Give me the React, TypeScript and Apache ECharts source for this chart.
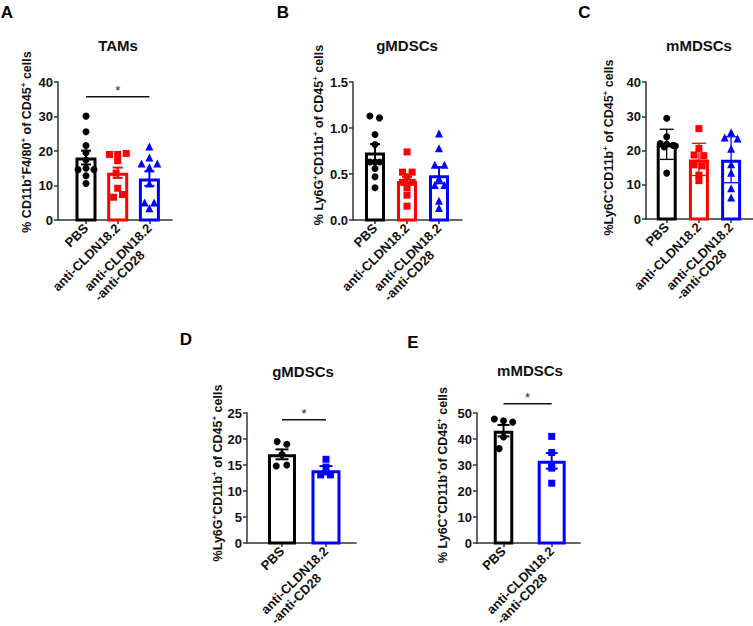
import React, { useEffect, useRef } from 'react';
import * as echarts from 'echarts';

const FONT = '"Liberation Sans", Arial, Helvetica, sans-serif';

// ---------- categories ----------
const labels3 = ['PBS', 'anti-CLDN18.2', 'anti-CLDN18.2\n-anti-CD28'];
const labels2 = ['PBS', 'anti-CLDN18.2\n-anti-CD28'];

// ---------- Panel A: TAMs ----------
const aPBS = [30.1, 25.6, 21.6, 19.5, 17.4, 15.0, 14.6, 14.6, 12.8, 10.6];
const aPBSJit = [0, 0, 0, 0, 0, 0, -0.25, 0.25, 0, 0];
const aCLDN = [19.0, 19.0, 19.3, 17.2, 13.6, 9.2, 6.6, 7.4];
const aCLDNJit = [-0.26, 0, 0.27, 0, -0.05, 0, -0.13, 0.15];
const aCombo = [21.3, 18.1, 16.4, 16.4, 15.3, 10.6, 5.1, 5.1, 3.4];
const aComboJit = [0, 0, -0.25, 0.25, 0, 0, -0.15, 0.15, 0];
const aMean = [18.1, 13.7, 12.0];
const aErr = [2.0, 1.5, 2.1];
const aSig = [1, 3, 35.7];
const aTicks = [0, 10, 20, 30, 40];

// ---------- Panel B: gMDSCs ----------
const bPBS = [1.13, 1.11, 0.93, 0.82, 0.63, 0.63, 0.63, 0.56, 0.47, 0.35];
const bPBSJit = [-0.16, 0.14, 0, 0, -0.16, 0, 0.14, 0, 0, 0];
const bCLDN = [0.74, 0.52, 0.52, 0.47, 0.41, 0.41, 0.35, 0.27, 0.15];
const bCLDNJit = [0, -0.14, 0.16, 0, -0.14, 0.16, 0, 0, 0];
const bCombo = [0.94, 0.78, 0.6, 0.6, 0.45, 0.38, 0.38, 0.21, 0.13];
const bComboJit = [0, 0, -0.13, 0.17, 0, -0.13, 0.17, 0, 0];
const bMean = [0.733, 0.425, 0.487];
const bErr = [0.092, 0.045, 0.088];
const bTicks = [0, 0.5, 1.0, 1.5];

// ---------- Panel C: mMDSCs ----------
const cPBS = [29.4, 24.0, 22.0, 21.8, 21.5, 21.3, 21.0, 13.4];
const cPBSJit = [0, 0, -0.2, 0, 0.2, 0.27, -0.08, 0];
const cCLDN = [26.4, 20.6, 18.7, 18.5, 15.8, 15.5, 12.8, 11.2];
const cCLDNJit = [0, 0, -0.15, 0.15, -0.15, 0.1, 0, 0];
const cCombo = [25.3, 23.8, 23.5, 20.5, 16.0, 13.5, 9.0, 6.3];
const cComboJit = [0, -0.2, 0.2, 0, 0, 0, 0, 0];
const cMean = [21.8, 17.4, 17.3];
const cErr = [4.4, 4.7, 6.7];
const cTicks = [0, 10, 20, 30, 40];

// ---------- Panel D: gMDSCs ----------
const dPBS = [19.5, 19.0, 17.0, 14.8, 15.0];
const dPBSJit = [-0.11, 0.11, 0, -0.13, 0.11];
const dCombo = [16.1, 14.6, 13.1, 13.1];
const dComboJit = [0, 0, -0.12, 0.1];
const dMean = [17.05, 14.0];
const dErr = [0.95, 0.8];
const dSig = [1, 2, 23.7];
const dTicks = [0, 5, 10, 15, 20, 25];

// ---------- Panel E: mMDSCs ----------
const ePBS = [47.7, 47.0, 46.5, 40.8, 36.3];
const ePBSJit = [-0.19, 0, 0.19, 0, -0.09];
const eCombo = [41.0, 34.8, 30.2, 28.8, 23.0];
const eComboJit = [0, 0, 0, 0, 0];
const eMean = [43.2, 31.6];
const eErr = [2.2, 3.0];
const eSig = [1, 2, 53.6];
const eTicks = [0, 10, 20, 30, 40, 50];

// ---------- styles ----------
const COLORS3 = ['#000000', '#ff0000', '#0000ff'];
const COLORS2 = ['#000000', '#0000ff'];
const SYMBOLS3 = ['circle', 'rect', 'triangle'];
const SYMBOLS2 = ['circle', 'rect'];
const SYMSIZE: Record<string, number> = { circle: 7, rect: 7, triangle: 8 };
const AXIS_COLOR = '#333333';

type Panel = {
  groups: number[][];
  jitters: number[][];
  means: number[];
  errs: number[];
  sig: number[] | null;
  labels: string[];
  ticks: number[];
  decimals: number;
  grid: { left: number; top: number; width: number; height: number };
  xMin: number;
  xMax: number;
  barW: number[];
  errLW: number;
  capW: number;
  colors: string[];
  symbols: string[];
};

const panels: Panel[] = [
  {
    groups: [aPBS, aCLDN, aCombo], jitters: [aPBSJit, aCLDNJit, aComboJit],
    means: aMean, errs: aErr, sig: aSig, labels: labels3, ticks: aTicks, decimals: 0,
    grid: { left: 58, top: 82, width: 114, height: 138 }, xMin: 0.117, xMax: 3.713,
    barW: [21, 21, 21], errLW: 2, capW: 10, colors: COLORS3, symbols: SYMBOLS3,
  },
  {
    groups: [bPBS, bCLDN, bCombo], jitters: [bPBSJit, bCLDNJit, bComboJit],
    means: bMean, errs: bErr, sig: null, labels: labels3, ticks: bTicks, decimals: 1,
    grid: { left: 353, top: 82, width: 109, height: 138 }, xMin: 0.3125, xMax: 3.719,
    barW: [20, 20, 20], errLW: 2, capW: 10, colors: COLORS3, symbols: SYMBOLS3,
  },
  {
    groups: [cPBS, cCLDN, cCombo], jitters: [cPBSJit, cCLDNJit, cComboJit],
    means: cMean, errs: cErr, sig: null, labels: labels3, ticks: cTicks, decimals: 0,
    grid: { left: 646, top: 82, width: 110, height: 137 }, xMin: 0.357, xMax: 3.773,
    barW: [20, 20, 20], errLW: 1.3, capW: 14, colors: COLORS3, symbols: SYMBOLS3,
  },
  {
    groups: [dPBS, dCombo], jitters: [dPBSJit, dComboJit],
    means: dMean, errs: dErr, sig: dSig, labels: labels2, ticks: dTicks, decimals: 0,
    grid: { left: 247, top: 413, width: 109, height: 130 }, xMin: 0.205, xMax: 2.682,
    barW: [28, 29], errLW: 2, capW: 13, colors: COLORS2, symbols: SYMBOLS2,
  },
  {
    groups: [ePBS, eCombo], jitters: [ePBSJit, eComboJit],
    means: eMean, errs: eErr, sig: eSig, labels: labels2, ticks: eTicks, decimals: 0,
    grid: { left: 477, top: 413, width: 103, height: 130 }, xMin: 0.45, xMax: 2.587,
    barW: [19.5, 28], errLW: 2, capW: 12, colors: COLORS2, symbols: SYMBOLS2,
  },
];

const titles = [
  { text: 'TAMs', x: 118, y: 45 },
  { text: 'gMDSCs', x: 407, y: 45 },
  { text: 'mMDSCs', x: 699, y: 45 },
  { text: 'gMDSCs', x: 303, y: 371 },
  { text: 'mMDSCs', x: 530, y: 370 },
];

const letters = [
  { text: 'A', x: 7, y: 12.5 },
  { text: 'B', x: 283, y: 12.5 },
  { text: 'C', x: 584.5, y: 12.5 },
  { text: 'D', x: 186, y: 339.5 },
  { text: 'E', x: 413, y: 342.5 },
];

const yNames = [
  { text: '{n|% CD11b}{s|+}{n|F4/80}{s|+}{n| of CD45}{s|+}{n| cells}', x: 27, y: 142 },
  { text: '{n|% Ly6G}{s|+}{n|CD11b}{s|+}{n| of CD45}{s|+}{n| cells}', x: 319, y: 135 },
  { text: '{n|%Ly6C}{s|+}{n|CD11b}{s|+}{n| of CD45}{s|+}{n| cells}', x: 609, y: 147.5 },
  { text: '{n|%Ly6G}{s|+}{n|CD11b}{s|+}{n| of CD45}{s|+}{n| cells}', x: 218, y: 473 },
  { text: '{n|% Ly6C}{s|+}{n|CD11b}{s|+}{n|of CD45}{s|+}{n| cells}', x: 442.5, y: 475 },
];

const LABEL_RICH = {
  a: { align: 'left', fontFamily: FONT, fontWeight: 'bold', fontSize: 13, color: '#111', lineHeight: 14 },
};

function buildOption() {
  const grid: any[] = [];
  const xAxis: any[] = [];
  const yAxis: any[] = [];
  const series: any[] = [];

  panels.forEach((p, i) => {
    grid.push({ ...p.grid, containLabel: false, outerBoundsMode: 'none' });
    const cats = p.labels.map((_, k) => k + 1);
    const single = cats.filter((c) => !p.labels[c - 1].includes('\n'));
    const multi = cats.filter((c) => p.labels[c - 1].includes('\n'));

    // main x axis: line, ticks, single-line labels
    xAxis.push({
      type: 'value',
      gridIndex: i,
      position: 'bottom',
      min: p.xMin,
      max: p.xMax,
      splitLine: { show: false },
      axisLine: { show: true, onZero: false, lineStyle: { color: AXIS_COLOR, width: 1.5 } },
      axisTick: { show: true, customValues: cats, length: 4, lineStyle: { color: AXIS_COLOR, width: 1.5 } },
      axisLabel: {
        customValues: single,
        rotate: 45,
        margin: 6,
        formatter: (v: number) => `{a|${p.labels[Math.round(v) - 1] || ''}}`,
        rich: LABEL_RICH,
      },
    });
    // secondary x axis (same scale): two-line labels, first line anchored at the tick
    xAxis.push({
      type: 'value',
      gridIndex: i,
      position: 'bottom',
      offset: 0,
      min: p.xMin,
      max: p.xMax,
      splitLine: { show: false },
      axisLine: { show: false, onZero: false },
      axisTick: { show: false },
      axisLabel: {
        customValues: multi,
        rotate: 45,
        margin: 6,
        formatter: (v: number) => {
          const lines = (p.labels[Math.round(v) - 1] || '').split('\n');
          const pad = Array(lines.length - 1).fill('{a| }');
          return [...pad, ...lines.map((l) => `{a|${l}}`)].join('\n');
        },
        rich: LABEL_RICH,
      },
    });

    const xi = 2 * i;
    const yMax = p.ticks[p.ticks.length - 1];
    yAxis.push({
      type: 'value',
      gridIndex: i,
      min: 0,
      max: yMax,
      interval: p.ticks[1] - p.ticks[0],
      splitLine: { show: false },
      axisLine: { show: true, lineStyle: { color: AXIS_COLOR, width: 1.5 } },
      axisTick: { show: true, length: 4, lineStyle: { color: AXIS_COLOR, width: 1.5 } },
      axisLabel: {
        margin: 5,
        fontFamily: FONT,
        fontWeight: 'bold',
        fontSize: 13,
        color: '#111',
        formatter: (v: number) => v.toFixed(p.decimals),
      },
    });

    // bars
    series.push({
      type: 'custom',
      xAxisIndex: xi,
      yAxisIndex: i,
      encode: { x: 0, y: 1 },
      data: p.means.map((m, k) => [k + 1, m, k]),
      renderItem: (_params: any, api: any) => {
        const k = api.value(2);
        const x = api.value(0);
        const p0 = api.coord([x, 0]);
        const p1 = api.coord([x, api.value(1)]);
        const w = p.barW[k] - 3;
        return {
          type: 'rect',
          shape: { x: p0[0] - w / 2, y: p1[1] + 1.5, width: w, height: p0[1] - p1[1] - 1.5 },
          style: { fill: 'rgba(255,255,255,0)', stroke: p.colors[k], lineWidth: 3 },
        };
      },
      z: 2,
    });

    // points
    p.groups.forEach((vals, k) => {
      series.push({
        type: 'scatter',
        xAxisIndex: xi,
        yAxisIndex: i,
        symbol: p.symbols[k],
        symbolSize: SYMSIZE[p.symbols[k]],
        itemStyle: { color: p.colors[k], opacity: 1 },
        data: vals.map((v, j) => [k + 1 + p.jitters[k][j], v]),
        z: 3,
      });
    });

    // error bars
    series.push({
      type: 'custom',
      xAxisIndex: xi,
      yAxisIndex: i,
      encode: { x: 0, y: 1 },
      data: p.means.map((m, k) => [k + 1, m, p.errs[k], k]),
      renderItem: (_params: any, api: any) => {
        const x = api.value(0);
        const m = api.value(1);
        const e = api.value(2);
        const k = api.value(3);
        const top = api.coord([x, m + e]);
        const bot = api.coord([x, m - e]);
        const hw = p.capW / 2;
        const st = { stroke: p.colors[k], lineWidth: p.errLW };
        return {
          type: 'group',
          children: [
            { type: 'line', shape: { x1: top[0], y1: top[1], x2: bot[0], y2: bot[1] }, style: st },
            { type: 'line', shape: { x1: top[0] - hw, y1: top[1], x2: top[0] + hw, y2: top[1] }, style: st },
            { type: 'line', shape: { x1: bot[0] - hw, y1: bot[1], x2: bot[0] + hw, y2: bot[1] }, style: st },
          ],
        };
      },
      z: 4,
    });

    // significance
    if (p.sig) {
      series.push({
        type: 'custom',
        xAxisIndex: xi,
        yAxisIndex: i,
        clip: false,
        encode: { x: 0, y: 2 },
        data: [p.sig],
        renderItem: (_params: any, api: any) => {
          const a = api.coord([api.value(0), api.value(2)]);
          const b = api.coord([api.value(1), api.value(2)]);
          return {
            type: 'group',
            children: [
              { type: 'line', shape: { x1: a[0], y1: a[1], x2: b[0], y2: b[1] }, style: { stroke: '#111', lineWidth: 1.5 } },
              {
                type: 'text',
                x: (a[0] + b[0]) / 2,
                y: a[1] - 6,
                style: { text: '*', fontFamily: FONT, fontSize: 13, fill: '#222', align: 'center', verticalAlign: 'middle' },
              },
            ],
          };
        },
        z: 5,
      });
    }
  });

  const graphic: any[] = [];
  titles.forEach((t) =>
    graphic.push({
      type: 'text', x: t.x, y: t.y,
      style: { text: t.text, fontFamily: FONT, fontWeight: 'bold', fontSize: 15, fill: '#111', align: 'center', verticalAlign: 'middle' },
    })
  );
  letters.forEach((t) =>
    graphic.push({
      type: 'text', x: t.x, y: t.y,
      style: { text: t.text, fontFamily: FONT, fontWeight: 'bold', fontSize: 17, fill: '#000', align: 'center', verticalAlign: 'middle' },
    })
  );
  yNames.forEach((t) =>
    graphic.push({
      type: 'text', x: t.x, y: t.y, rotation: Math.PI / 2,
      style: {
        text: t.text, align: 'center', verticalAlign: 'middle', fill: '#111',
        fontFamily: FONT, fontWeight: 'bold', fontSize: 12.5,
        rich: {
          n: { fontFamily: FONT, fontWeight: 'bold', fontSize: 12.5, fill: '#111', lineHeight: 15 },
          s: { fontFamily: FONT, fontWeight: 'bold', fontSize: 8, fill: '#111', verticalAlign: 'top', lineHeight: 15 },
        },
      },
    })
  );

  return {
    animation: false,
    backgroundColor: '#ffffff',
    textStyle: { fontFamily: FONT },
    grid,
    xAxis,
    yAxis,
    series,
    graphic,
  };
}

export default function App() {
  const ref = useRef<HTMLDivElement>(null);
  useEffect(() => {
    document.body.style.margin = '0';
    if (!ref.current) return;
    const chart = echarts.init(ref.current, undefined, { renderer: 'svg' });
    chart.setOption(buildOption() as any);
    return () => chart.dispose();
  }, []);
  return <div ref={ref} style={{ width: 753, height: 626, background: '#fff' }} />;
}
